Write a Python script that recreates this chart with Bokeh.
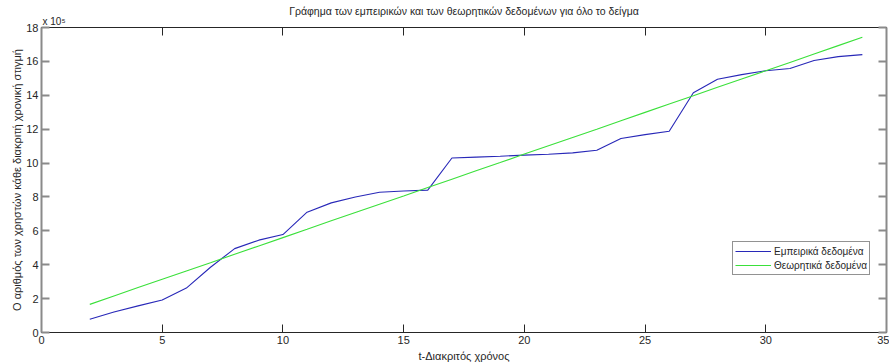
from bokeh.plotting import figure
from bokeh.models import LinearAxis, Range1d, FixedTicker, Title, Legend, LegendItem
from bokeh.embed import file_html
from bokeh.resources import INLINE

# ---- data (values in units of 10^5) ----
t = list(range(2, 35))
empirical = [0.78, 1.21, 1.57, 1.92, 2.62, 3.85, 4.95, 5.45, 5.78, 7.10, 7.65,
             8.00, 8.28, 8.35, 8.40, 10.30, 10.35, 10.40, 10.47, 10.52, 10.60,
             10.76, 11.45, 11.68, 11.88, 14.15, 14.95, 15.22, 15.45, 15.58,
             16.05, 16.28, 16.40]
theoretical = [1.66, 2.15, 2.65, 3.14, 3.63, 4.12, 4.62, 5.11, 5.60, 6.09, 6.59,
               7.08, 7.57, 8.06, 8.56, 9.05, 9.54, 10.03, 10.53, 11.02, 11.51,
               12.00, 12.50, 12.99, 13.48, 13.97, 14.47, 14.96, 15.45, 15.94,
               16.44, 16.93, 17.42]
x_ticks = [0, 5, 10, 15, 20, 25, 30, 35]
y_ticks = [0, 2, 4, 6, 8, 10, 12, 14, 16, 18]

title_text = "Γράφημα των εμπειρικών και των θεωρητικών δεδομένων για όλο το δείγμα"
scale_text = "x 10⁵"
x_label = "t-Διακριτός χρόνος"
y_label = "Ο αριθμός των χρηστών κάθε διακριτή χρονική στιγμή"
legend_labels = ["Εμπειρικά δεδομένα", "Θεωρητικά δεδομένα"]

FONT = "Liberation Sans"
TXT = "#262626"

p = figure(width=889, height=364, output_backend="svg", toolbar_location=None,
           x_range=Range1d(0, 35), y_range=Range1d(0, 18),
           x_axis_location=None, y_axis_location=None, title=None,
           min_border_left=41, min_border_right=3, min_border_top=27,
           min_border_bottom=32)
p.outline_line_color = None
p.xgrid.visible = False
p.ygrid.visible = False
p.background_fill_color = "white"
p.border_fill_color = "white"


def style_axis(ax, ticks, line_color, width, labels=True):
    ax.ticker = FixedTicker(ticks=ticks)
    ax.major_tick_in = 8
    ax.major_tick_out = 0
    ax.minor_tick_line_color = None
    ax.axis_line_color = line_color
    ax.axis_line_width = width
    ax.major_tick_line_color = line_color
    ax.major_tick_line_width = width
    ax.major_label_text_font = FONT
    ax.major_label_text_font_size = "11px"
    ax.major_label_text_color = TXT
    ax.major_label_standoff = 3
    if not labels:
        ax.major_label_text_font_size = "1px"
        ax.major_label_text_color = None
        ax.major_label_standoff = 0


bx = LinearAxis(axis_label=x_label)
tx = LinearAxis()
ly = LinearAxis(axis_label=y_label)
ry = LinearAxis()
style_axis(bx, x_ticks, "#262626", 1)
style_axis(tx, x_ticks, "#262626", 1, labels=False)
style_axis(ly, y_ticks, "#8a8a8a", 2)
style_axis(ry, y_ticks, "#8a8a8a", 2, labels=False)
for ax in (bx, ly):
    ax.axis_label_text_font = FONT
    ax.axis_label_text_font_size = "11px"
    ax.axis_label_text_font_style = "normal"
    ax.axis_label_text_color = TXT
bx.axis_label_standoff = 3
ly.axis_label_standoff = 0
p.add_layout(bx, "below")
p.add_layout(tx, "above")
p.add_layout(ly, "left")
p.add_layout(ry, "right")

# scale marker (closer to the frame), then the main title above it
p.add_layout(Title(text=scale_text, align="left", text_font=FONT,
                   text_font_size="10px", text_font_style="normal",
                   text_color=TXT, standoff=1, offset=1), "above")
p.add_layout(Title(text=title_text, align="center", text_font=FONT,
                   text_font_size="10.5px", text_font_style="normal",
                   text_color=TXT, standoff=-6), "above")

r1 = p.line(t, empirical, line_color="#2828b8", line_width=1.1)
r2 = p.line(t, theoretical, line_color="#3ae03a", line_width=1.1)

legend = Legend(items=[LegendItem(label=legend_labels[0], renderers=[r1]),
                       LegendItem(label=legend_labels[1], renderers=[r2])],
                location=(691, 57))
legend.border_line_color = "#262626"
legend.border_line_width = 1
legend.background_fill_color = "white"
legend.label_text_font = FONT
legend.label_text_font_size = "10px"
legend.label_text_color = TXT
legend.glyph_width = 36
legend.glyph_height = 14
legend.label_height = 14
legend.label_standoff = 3
legend.padding = 2
legend.spacing = 0
legend.margin = 0
p.add_layout(legend, "center")

open("out.html", "w").write(file_html(p, INLINE))
